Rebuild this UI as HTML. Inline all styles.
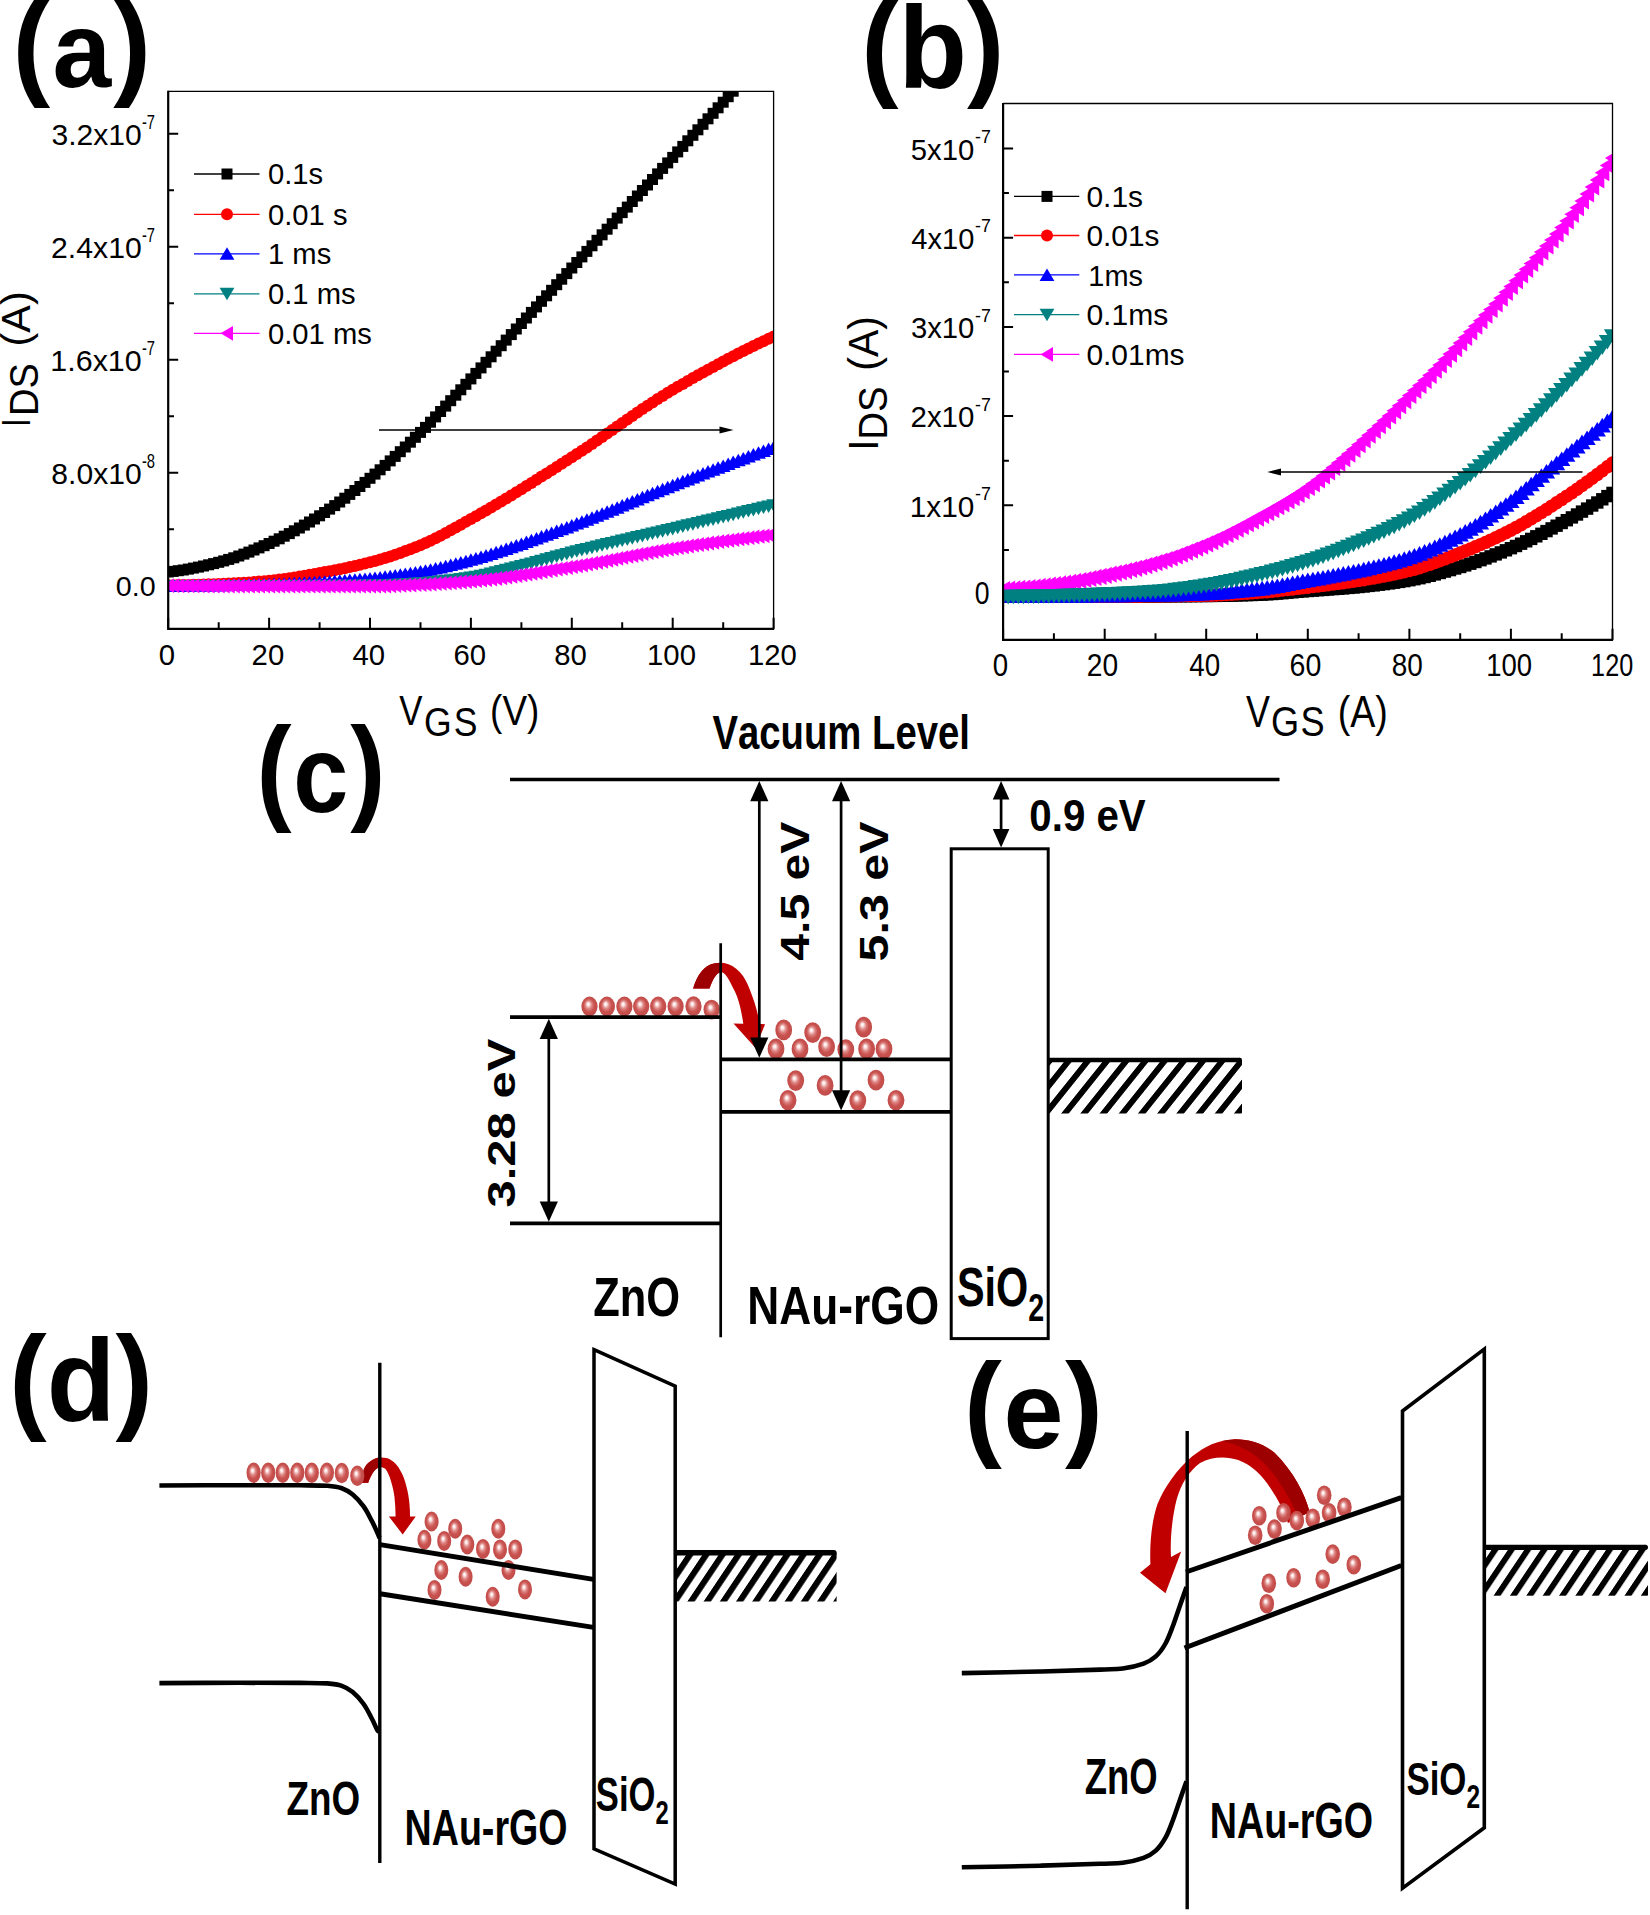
<!DOCTYPE html>
<html><head><meta charset="utf-8"><title>Figure</title>
<style>
html,body{margin:0;padding:0;background:#fff;}
svg{display:block;font-family:"Liberation Sans",Arial,sans-serif;font-kerning:none;}
</style></head><body>
<svg width="1650" height="1915" viewBox="0 0 1650 1915">
<rect width="1650" height="1915" fill="#fff"/>

<defs>
<marker id="mSq" markerUnits="userSpaceOnUse" markerWidth="14" markerHeight="14" refX="7" refY="7" viewBox="0 0 14 14"><rect x="1.5" y="1.5" width="11" height="11" fill="#000"/></marker>
<marker id="mCi" markerUnits="userSpaceOnUse" markerWidth="14" markerHeight="14" refX="7" refY="7" viewBox="0 0 14 14"><circle cx="7" cy="7" r="6" fill="#ff0000"/></marker>
<marker id="mUp" markerUnits="userSpaceOnUse" markerWidth="16" markerHeight="16" refX="8" refY="8" viewBox="0 0 16 16"><path d="M8 1.5 L15.4 14 L0.6 14 Z" fill="#0000ff"/></marker>
<marker id="mDn" markerUnits="userSpaceOnUse" markerWidth="16" markerHeight="16" refX="8" refY="8" viewBox="0 0 16 16"><path d="M8 14.5 L15.4 2 L0.6 2 Z" fill="#008080"/></marker>
<marker id="mLf" markerUnits="userSpaceOnUse" markerWidth="16" markerHeight="16" refX="8" refY="8" viewBox="0 0 16 16"><path d="M1.5 8 L14 0.6 L14 15.4 Z" fill="#ff00ff"/></marker>
<marker id="mSqB" markerUnits="userSpaceOnUse" markerWidth="16" markerHeight="16" refX="8" refY="8" viewBox="0 0 16 16"><rect x="1.8" y="1.8" width="12.4" height="12.4" fill="#000"/></marker>
<marker id="mCiB" markerUnits="userSpaceOnUse" markerWidth="16" markerHeight="16" refX="8" refY="8" viewBox="0 0 16 16"><circle cx="8" cy="8" r="6.7" fill="#ff0000"/></marker>
<marker id="mUpB" markerUnits="userSpaceOnUse" markerWidth="20" markerHeight="20" refX="10" refY="10" viewBox="0 0 20 20"><path d="M10 2.4 L18.6 17 L1.4 17 Z" fill="#0000ff"/></marker>
<marker id="mDnB" markerUnits="userSpaceOnUse" markerWidth="20" markerHeight="20" refX="10" refY="10" viewBox="0 0 20 20"><path d="M10 17.6 L18.6 3 L1.4 3 Z" fill="#008080"/></marker>
<marker id="mLfB" markerUnits="userSpaceOnUse" markerWidth="20" markerHeight="20" refX="10" refY="10" viewBox="0 0 20 20"><path d="M2.4 10 L17 1.4 L17 18.6 Z" fill="#ff00ff"/></marker>
<radialGradient id="eg" cx="0.5" cy="0.5" r="0.56" fx="0.41" fy="0.37">
<stop offset="0" stop-color="#ffffff"/><stop offset="0.12" stop-color="#fdeceb"/><stop offset="0.36" stop-color="#dd8583"/><stop offset="0.6" stop-color="#c9524f"/><stop offset="1" stop-color="#bd4946"/>
</radialGradient>
<pattern id="hat" patternUnits="userSpaceOnUse" x="0" y="0" width="19.1" height="100" patternTransform="skewX(-39.5)">
<rect x="0" y="0" width="7.6" height="100" fill="#000"/>
</pattern>
<clipPath id="clipA"><rect x="168.2" y="91.3" width="605.4" height="537.5"/></clipPath>
<clipPath id="clipB"><rect x="1003.1" y="103.5" width="609.4" height="536.3"/></clipPath>
</defs>

<path d="M168.2 628.8 v-11 M218.7 628.8 v-6.5 M269.1 628.8 v-11 M319.6 628.8 v-6.5 M370.0 628.8 v-11 M420.5 628.8 v-6.5 M470.9 628.8 v-11 M521.4 628.8 v-6.5 M571.8 628.8 v-11 M622.2 628.8 v-6.5 M672.7 628.8 v-11 M723.2 628.8 v-6.5 M773.6 628.8 v-11 M168.2 585.7 h10 M168.2 529.2 h5.8 M168.2 472.7 h10 M168.2 416.2 h5.8 M168.2 359.7 h10 M168.2 303.2 h5.8 M168.2 246.7 h10 M168.2 190.2 h5.8 M168.2 133.7 h10" stroke="#000" stroke-width="2" fill="none"/>
<path d="M168.2 572.0 L173.2 571.4 L178.3 570.7 L183.3 570.0 L188.4 569.1 L193.4 568.1 L198.5 567.1 L203.5 566.0 L208.6 564.8 L213.6 563.6 L218.7 562.3 L223.7 560.9 L228.7 559.4 L233.8 557.8 L238.8 556.0 L243.9 554.1 L248.9 552.1 L254.0 550.0 L259.0 547.9 L264.1 545.7 L269.1 543.5 L274.1 541.2 L279.2 538.8 L284.2 536.2 L289.3 533.6 L294.3 530.8 L299.4 528.0 L304.4 525.1 L309.5 522.0 L314.5 519.0 L319.6 515.8 L324.6 512.5 L329.6 509.1 L334.7 505.6 L339.7 502.0 L344.8 498.2 L349.8 494.4 L354.9 490.5 L359.9 486.5 L365.0 482.4 L370.0 478.3 L375.0 474.1 L380.1 469.8 L385.1 465.4 L390.2 460.9 L395.2 456.4 L400.3 451.7 L405.3 447.0 L410.4 442.2 L415.4 437.3 L420.5 432.4 L425.5 427.4 L430.5 422.2 L435.6 416.9 L440.6 411.5 L445.7 406.1 L450.7 400.7 L455.8 395.2 L460.8 389.8 L465.9 384.3 L470.9 378.9 L475.9 373.4 L481.0 367.9 L486.0 362.3 L491.1 356.8 L496.1 351.2 L501.2 345.7 L506.2 340.1 L511.3 334.6 L516.3 329.0 L521.4 323.5 L526.4 318.0 L531.4 312.4 L536.5 306.9 L541.5 301.3 L546.6 295.8 L551.6 290.3 L556.7 284.7 L561.7 279.2 L566.8 273.6 L571.8 268.0 L576.8 262.5 L581.9 256.9 L586.9 251.4 L592.0 245.8 L597.0 240.3 L602.1 234.8 L607.1 229.2 L612.2 223.7 L617.2 218.1 L622.2 212.6 L627.3 207.1 L632.3 201.5 L637.4 196.0 L642.4 190.5 L647.5 185.0 L652.5 179.5 L657.6 173.9 L662.6 168.4 L667.7 162.9 L672.7 157.4 L677.7 151.9 L682.8 146.4 L687.8 140.8 L692.9 135.3 L697.9 129.8 L703.0 124.3 L708.0 118.8 L713.1 113.3 L718.1 107.8 L723.2 102.2 L728.2 96.7 L733.2 91.2 L738.3 85.7 L743.3 80.2 L748.4 74.6 L753.4 69.1 L758.5 63.6 L763.5 58.1 L768.6 52.5 L773.6 47.0" fill="none" stroke="#000" stroke-width="1" marker-start="url(#mSq)" marker-mid="url(#mSq)" marker-end="url(#mSq)" clip-path="url(#clipA)"/>
<path d="M168.2 585.2 L173.2 585.2 L178.3 585.1 L183.3 585.0 L188.4 584.9 L193.4 584.8 L198.5 584.7 L203.5 584.5 L208.6 584.3 L213.6 584.2 L218.7 584.0 L223.7 583.8 L228.7 583.6 L233.8 583.3 L238.8 583.0 L243.9 582.7 L248.9 582.4 L254.0 582.0 L259.0 581.6 L264.1 581.2 L269.1 580.7 L274.1 580.2 L279.2 579.6 L284.2 578.9 L289.3 578.2 L294.3 577.4 L299.4 576.6 L304.4 575.7 L309.5 574.8 L314.5 573.9 L319.6 573.0 L324.6 572.1 L329.6 571.2 L334.7 570.2 L339.7 569.2 L344.8 568.2 L349.8 567.1 L354.9 566.0 L359.9 564.8 L365.0 563.6 L370.0 562.3 L375.0 560.9 L380.1 559.5 L385.1 558.0 L390.2 556.4 L395.2 554.7 L400.3 552.9 L405.3 551.1 L410.4 549.2 L415.4 547.2 L420.5 545.2 L425.5 543.0 L430.5 540.7 L435.6 538.3 L440.6 535.7 L445.7 533.0 L450.7 530.3 L455.8 527.5 L460.8 524.7 L465.9 521.8 L470.9 519.0 L475.9 516.2 L481.0 513.3 L486.0 510.4 L491.1 507.5 L496.1 504.5 L501.2 501.5 L506.2 498.4 L511.3 495.4 L516.3 492.3 L521.4 489.2 L526.4 486.1 L531.4 482.9 L536.5 479.7 L541.5 476.6 L546.6 473.4 L551.6 470.2 L556.7 467.0 L561.7 463.7 L566.8 460.5 L571.8 457.3 L576.8 454.0 L581.9 450.7 L586.9 447.4 L592.0 443.9 L597.0 440.5 L602.1 437.0 L607.1 433.5 L612.2 430.0 L617.2 426.5 L622.2 422.9 L627.3 419.4 L632.3 415.9 L637.4 412.5 L642.4 409.1 L647.5 405.7 L652.5 402.4 L657.6 399.1 L662.6 395.9 L667.7 392.8 L672.7 389.8 L677.7 386.8 L682.8 383.9 L687.8 381.0 L692.9 378.1 L697.9 375.3 L703.0 372.4 L708.0 369.7 L713.1 366.9 L718.1 364.2 L723.2 361.5 L728.2 358.8 L733.2 356.2 L738.3 353.6 L743.3 351.1 L748.4 348.5 L753.4 346.1 L758.5 343.6 L763.5 341.2 L768.6 338.8 L773.6 336.5" fill="none" stroke="#ff0000" stroke-width="1" marker-start="url(#mCi)" marker-mid="url(#mCi)" marker-end="url(#mCi)" clip-path="url(#clipA)"/>
<path d="M168.2 585.7 L173.2 585.7 L178.3 585.7 L183.3 585.7 L188.4 585.6 L193.4 585.6 L198.5 585.5 L203.5 585.5 L208.6 585.4 L213.6 585.3 L218.7 585.2 L223.7 585.2 L228.7 585.1 L233.8 585.0 L238.8 584.9 L243.9 584.8 L248.9 584.7 L254.0 584.5 L259.0 584.4 L264.1 584.3 L269.1 584.2 L274.1 584.1 L279.2 583.9 L284.2 583.7 L289.3 583.5 L294.3 583.3 L299.4 583.1 L304.4 582.8 L309.5 582.5 L314.5 582.3 L319.6 582.0 L324.6 581.7 L329.6 581.4 L334.7 581.1 L339.7 580.8 L344.8 580.4 L349.8 580.1 L354.9 579.7 L359.9 579.3 L365.0 578.9 L370.0 578.4 L375.0 577.9 L380.1 577.4 L385.1 576.8 L390.2 576.2 L395.2 575.5 L400.3 574.8 L405.3 574.0 L410.4 573.3 L415.4 572.4 L420.5 571.6 L425.5 570.7 L430.5 569.7 L435.6 568.6 L440.6 567.5 L445.7 566.3 L450.7 565.1 L455.8 563.8 L460.8 562.5 L465.9 561.2 L470.9 559.8 L475.9 558.4 L481.0 557.0 L486.0 555.5 L491.1 553.9 L496.1 552.3 L501.2 550.7 L506.2 549.0 L511.3 547.3 L516.3 545.6 L521.4 543.9 L526.4 542.1 L531.4 540.3 L536.5 538.5 L541.5 536.6 L546.6 534.8 L551.6 532.9 L556.7 531.1 L561.7 529.2 L566.8 527.4 L571.8 525.5 L576.8 523.6 L581.9 521.7 L586.9 519.8 L592.0 517.8 L597.0 515.8 L602.1 513.8 L607.1 511.8 L612.2 509.7 L617.2 507.7 L622.2 505.6 L627.3 503.5 L632.3 501.5 L637.4 499.4 L642.4 497.3 L647.5 495.3 L652.5 493.2 L657.6 491.2 L662.6 489.2 L667.7 487.2 L672.7 485.2 L677.7 483.2 L682.8 481.3 L687.8 479.4 L692.9 477.4 L697.9 475.5 L703.0 473.6 L708.0 471.6 L713.1 469.7 L718.1 467.8 L723.2 465.9 L728.2 464.0 L733.2 462.1 L738.3 460.2 L743.3 458.4 L748.4 456.5 L753.4 454.6 L758.5 452.8 L763.5 450.9 L768.6 449.0 L773.6 447.2" fill="none" stroke="#0000ff" stroke-width="1" marker-start="url(#mUp)" marker-mid="url(#mUp)" marker-end="url(#mUp)" clip-path="url(#clipA)"/>
<path d="M168.2 586.0 L173.2 586.0 L178.3 586.0 L183.3 586.0 L188.4 586.0 L193.4 586.0 L198.5 586.0 L203.5 586.0 L208.6 586.0 L213.6 586.0 L218.7 586.0 L223.7 586.0 L228.7 586.0 L233.8 586.0 L238.8 586.0 L243.9 586.0 L248.9 586.0 L254.0 586.0 L259.0 586.0 L264.1 586.0 L269.1 586.0 L274.1 586.0 L279.2 586.0 L284.2 586.0 L289.3 586.0 L294.3 586.0 L299.4 586.0 L304.4 586.0 L309.5 585.9 L314.5 585.9 L319.6 585.9 L324.6 585.9 L329.6 585.9 L334.7 585.8 L339.7 585.8 L344.8 585.8 L349.8 585.7 L354.9 585.7 L359.9 585.7 L365.0 585.6 L370.0 585.6 L375.0 585.5 L380.1 585.4 L385.1 585.3 L390.2 585.0 L395.2 584.8 L400.3 584.5 L405.3 584.3 L410.4 583.9 L415.4 583.6 L420.5 583.3 L425.5 582.9 L430.5 582.5 L435.6 582.0 L440.6 581.5 L445.7 581.0 L450.7 580.3 L455.8 579.7 L460.8 579.0 L465.9 578.3 L470.9 577.5 L475.9 576.7 L481.0 575.7 L486.0 574.7 L491.1 573.5 L496.1 572.3 L501.2 571.1 L506.2 569.8 L511.3 568.5 L516.3 567.3 L521.4 566.0 L526.4 564.7 L531.4 563.4 L536.5 562.1 L541.5 560.7 L546.6 559.3 L551.6 558.0 L556.7 556.6 L561.7 555.2 L566.8 553.9 L571.8 552.6 L576.8 551.3 L581.9 550.1 L586.9 548.9 L592.0 547.7 L597.0 546.4 L602.1 545.3 L607.1 544.1 L612.2 542.9 L617.2 541.7 L622.2 540.5 L627.3 539.4 L632.3 538.2 L637.4 537.1 L642.4 535.9 L647.5 534.7 L652.5 533.6 L657.6 532.4 L662.6 531.3 L667.7 530.1 L672.7 528.9 L677.7 527.7 L682.8 526.5 L687.8 525.3 L692.9 524.2 L697.9 523.0 L703.0 521.8 L708.0 520.6 L713.1 519.4 L718.1 518.2 L723.2 517.0 L728.2 515.9 L733.2 514.7 L738.3 513.5 L743.3 512.3 L748.4 511.1 L753.4 509.9 L758.5 508.8 L763.5 507.6 L768.6 506.4 L773.6 505.2" fill="none" stroke="#008080" stroke-width="1" marker-start="url(#mDn)" marker-mid="url(#mDn)" marker-end="url(#mDn)" clip-path="url(#clipA)"/>
<path d="M168.2 585.7 L173.2 585.7 L178.3 585.8 L183.3 585.8 L188.4 585.8 L193.4 585.9 L198.5 585.9 L203.5 586.0 L208.6 586.0 L213.6 586.0 L218.7 586.0 L223.7 586.1 L228.7 586.1 L233.8 586.1 L238.8 586.1 L243.9 586.2 L248.9 586.2 L254.0 586.2 L259.0 586.2 L264.1 586.2 L269.1 586.2 L274.1 586.2 L279.2 586.2 L284.2 586.2 L289.3 586.2 L294.3 586.2 L299.4 586.2 L304.4 586.2 L309.5 586.2 L314.5 586.2 L319.6 586.2 L324.6 586.2 L329.6 586.2 L334.7 586.2 L339.7 586.2 L344.8 586.2 L349.8 586.2 L354.9 586.2 L359.9 586.2 L365.0 586.2 L370.0 586.2 L375.0 586.2 L380.1 586.1 L385.1 586.0 L390.2 585.8 L395.2 585.6 L400.3 585.4 L405.3 585.2 L410.4 585.0 L415.4 584.7 L420.5 584.5 L425.5 584.3 L430.5 584.0 L435.6 583.7 L440.6 583.4 L445.7 583.1 L450.7 582.8 L455.8 582.4 L460.8 582.0 L465.9 581.6 L470.9 581.2 L475.9 580.7 L481.0 580.2 L486.0 579.7 L491.1 579.1 L496.1 578.5 L501.2 577.8 L506.2 577.1 L511.3 576.4 L516.3 575.7 L521.4 574.9 L526.4 574.1 L531.4 573.3 L536.5 572.5 L541.5 571.7 L546.6 570.8 L551.6 570.0 L556.7 569.2 L561.7 568.3 L566.8 567.5 L571.8 566.7 L576.8 565.9 L581.9 565.0 L586.9 564.1 L592.0 563.2 L597.0 562.3 L602.1 561.3 L607.1 560.4 L612.2 559.4 L617.2 558.4 L622.2 557.4 L627.3 556.4 L632.3 555.5 L637.4 554.5 L642.4 553.6 L647.5 552.6 L652.5 551.7 L657.6 550.8 L662.6 549.9 L667.7 549.1 L672.7 548.3 L677.7 547.5 L682.8 546.8 L687.8 546.0 L692.9 545.2 L697.9 544.5 L703.0 543.8 L708.0 543.0 L713.1 542.3 L718.1 541.6 L723.2 540.9 L728.2 540.3 L733.2 539.6 L738.3 538.9 L743.3 538.3 L748.4 537.7 L753.4 537.0 L758.5 536.4 L763.5 535.8 L768.6 535.3 L773.6 534.7" fill="none" stroke="#ff00ff" stroke-width="1" marker-start="url(#mLf)" marker-mid="url(#mLf)" marker-end="url(#mLf)" clip-path="url(#clipA)"/>
<path d="M168.2 91.3 H773.6 V628.8" fill="none" stroke="#000" stroke-width="1.3"/>
<path d="M168.2 90.7 V628.8 H774.2" fill="none" stroke="#000" stroke-width="2.2"/>
<text transform="translate(167.0,664.5)" font-size="29.3" text-anchor="middle" font-weight="normal" >0</text>
<text transform="translate(267.9,664.5)" font-size="29.3" text-anchor="middle" font-weight="normal" >20</text>
<text transform="translate(368.8,664.5)" font-size="29.3" text-anchor="middle" font-weight="normal" >40</text>
<text transform="translate(469.7,664.5)" font-size="29.3" text-anchor="middle" font-weight="normal" >60</text>
<text transform="translate(570.6,664.5)" font-size="29.3" text-anchor="middle" font-weight="normal" >80</text>
<text transform="translate(671.5,664.5)" font-size="29.3" text-anchor="middle" font-weight="normal" >100</text>
<text transform="translate(772.4,664.5)" font-size="29.3" text-anchor="middle" font-weight="normal" >120</text>
<text transform="translate(51.47,144.60) scale(1.0294,1)" font-size="29.2" font-weight="normal" >3.2x10</text>
<text transform="translate(141.94,128.50) scale(0.7319,1)" font-size="20.0" font-weight="normal" >-7</text>
<text transform="translate(51.09,257.60) scale(1.0339,1)" font-size="29.2" font-weight="normal" >2.4x10</text>
<text transform="translate(141.94,241.50) scale(0.7319,1)" font-size="20.0" font-weight="normal" >-7</text>
<text transform="translate(50.32,370.60) scale(1.0428,1)" font-size="29.2" font-weight="normal" >1.6x10</text>
<text transform="translate(141.94,354.50) scale(0.7319,1)" font-size="20.0" font-weight="normal" >-7</text>
<text transform="translate(51.32,483.60) scale(1.0312,1)" font-size="29.2" font-weight="normal" >8.0x10</text>
<text transform="translate(141.94,467.50) scale(0.7375,1)" font-size="20.0" font-weight="normal" >-8</text>
<text transform="translate(115.85,595.70) scale(1.0052,1)" font-size="28.5" font-weight="normal" >0.0</text>
<path d="M194 174 H227 H259.5" stroke="#000" stroke-width="1.3" fill="none" marker-mid="url(#mSq)"/>
<text transform="translate(268.0,184.3)" font-size="29.2" text-anchor="start" font-weight="normal" >0.1s</text>
<path d="M194 214.3 H227 H259.5" stroke="#ff0000" stroke-width="1.3" fill="none" marker-mid="url(#mCi)"/>
<text transform="translate(268.0,224.6)" font-size="29.2" text-anchor="start" font-weight="normal" >0.01 s</text>
<path d="M194 253.8 H227 H259.5" stroke="#0000ff" stroke-width="1.3" fill="none" marker-mid="url(#mUp)"/>
<text transform="translate(268.0,264.1)" font-size="29.2" text-anchor="start" font-weight="normal" >1 ms</text>
<path d="M194 293.8 H227 H259.5" stroke="#008080" stroke-width="1.3" fill="none" marker-mid="url(#mDn)"/>
<text transform="translate(268.0,304.1)" font-size="29.2" text-anchor="start" font-weight="normal" >0.1 ms</text>
<path d="M194 333.3 H227 H259.5" stroke="#ff00ff" stroke-width="1.3" fill="none" marker-mid="url(#mLf)"/>
<text transform="translate(268.0,343.6)" font-size="29.2" text-anchor="start" font-weight="normal" >0.01 ms</text>
<path d="M379 430 H722" stroke="#000" stroke-width="1.3"/><path d="M733.5 430 L719.5 426.6 L719.5 433.4 Z" fill="#000"/>
<text transform="translate(29.70,427.00) rotate(-90) scale(0.7610,1)" font-size="41.2" font-weight="normal" >I</text>
<text transform="translate(38.40,415.94) rotate(-90) scale(0.9364,1)" font-size="40.6" font-weight="normal" >DS</text>
<text transform="translate(29.70,346.49) rotate(-90) scale(1.0050,1)" font-size="41.2" font-weight="normal" >(A)</text>
<text transform="translate(399.23,725.30) scale(0.8214,1)" font-size="42.4" font-weight="normal" >V</text>
<text transform="translate(424.02,735.80) scale(0.8856,1)" font-size="40.2" font-weight="normal" letter-spacing="2.41" >GS</text>
<text transform="translate(490.09,725.30) scale(0.8713,1)" font-size="42.4" font-weight="normal" >(V)</text>
<path d="M1003.1 639.8 v-11 M1053.9 639.8 v-6.5 M1104.7 639.8 v-11 M1155.5 639.8 v-6.5 M1206.2 639.8 v-11 M1257.0 639.8 v-6.5 M1307.8 639.8 v-11 M1358.6 639.8 v-6.5 M1409.4 639.8 v-11 M1460.2 639.8 v-6.5 M1510.9 639.8 v-11 M1561.7 639.8 v-6.5 M1612.5 639.8 v-11 M1003.1 594.5 h10 M1003.1 549.9 h5.8 M1003.1 505.3 h10 M1003.1 460.7 h5.8 M1003.1 416.1 h10 M1003.1 371.5 h5.8 M1003.1 326.9 h10 M1003.1 282.3 h5.8 M1003.1 237.7 h10 M1003.1 193.1 h5.8 M1003.1 148.5 h10" stroke="#000" stroke-width="2" fill="none"/>
<path d="M1003.1 596.5 L1008.2 596.5 L1013.3 596.5 L1018.3 596.5 L1023.4 596.5 L1028.5 596.5 L1033.6 596.5 L1038.6 596.5 L1043.7 596.5 L1048.8 596.5 L1053.9 596.5 L1059.0 596.5 L1064.0 596.5 L1069.1 596.5 L1074.2 596.5 L1079.3 596.5 L1084.4 596.5 L1089.4 596.5 L1094.5 596.5 L1099.6 596.5 L1104.7 596.5 L1109.7 596.5 L1114.8 596.5 L1119.9 596.5 L1125.0 596.5 L1130.1 596.5 L1135.1 596.4 L1140.2 596.4 L1145.3 596.4 L1150.4 596.4 L1155.5 596.4 L1160.5 596.3 L1165.6 596.3 L1170.7 596.3 L1175.8 596.2 L1180.8 596.2 L1185.9 596.2 L1191.0 596.1 L1196.1 596.1 L1201.2 596.0 L1206.2 596.0 L1211.3 595.9 L1216.4 595.9 L1221.5 595.8 L1226.5 595.7 L1231.6 595.6 L1236.7 595.4 L1241.8 595.3 L1246.9 595.1 L1251.9 595.0 L1257.0 594.8 L1262.1 594.6 L1267.2 594.3 L1272.3 594.0 L1277.3 593.6 L1282.4 593.2 L1287.5 592.7 L1292.6 592.3 L1297.6 591.8 L1302.7 591.4 L1307.8 591.0 L1312.9 590.6 L1318.0 590.2 L1323.0 589.9 L1328.1 589.5 L1333.2 589.1 L1338.3 588.8 L1343.3 588.4 L1348.4 587.9 L1353.5 587.5 L1358.6 587.0 L1363.7 586.5 L1368.7 585.9 L1373.8 585.4 L1378.9 584.7 L1384.0 584.1 L1389.1 583.4 L1394.1 582.7 L1399.2 581.9 L1404.3 581.1 L1409.4 580.2 L1414.4 579.2 L1419.5 578.2 L1424.6 577.0 L1429.7 575.8 L1434.8 574.4 L1439.8 573.0 L1444.9 571.6 L1450.0 570.1 L1455.1 568.5 L1460.2 567.0 L1465.2 565.4 L1470.3 563.7 L1475.4 562.0 L1480.5 560.2 L1485.5 558.4 L1490.6 556.4 L1495.7 554.4 L1500.8 552.4 L1505.9 550.3 L1510.9 548.2 L1516.0 546.0 L1521.1 543.7 L1526.2 541.3 L1531.2 538.9 L1536.3 536.3 L1541.4 533.8 L1546.5 531.1 L1551.6 528.4 L1556.6 525.7 L1561.7 523.0 L1566.8 520.2 L1571.9 517.4 L1577.0 514.5 L1582.0 511.6 L1587.1 508.6 L1592.2 505.5 L1597.3 502.5 L1602.3 499.3 L1607.4 496.1 L1612.5 492.9" fill="none" stroke="#000" stroke-width="1" marker-start="url(#mSqB)" marker-mid="url(#mSqB)" marker-end="url(#mSqB)" clip-path="url(#clipB)"/>
<path d="M1003.1 596.3 L1008.2 596.3 L1013.3 596.3 L1018.3 596.3 L1023.4 596.3 L1028.5 596.3 L1033.6 596.3 L1038.6 596.3 L1043.7 596.3 L1048.8 596.3 L1053.9 596.3 L1059.0 596.3 L1064.0 596.3 L1069.1 596.3 L1074.2 596.3 L1079.3 596.3 L1084.4 596.3 L1089.4 596.3 L1094.5 596.3 L1099.6 596.3 L1104.7 596.3 L1109.7 596.3 L1114.8 596.3 L1119.9 596.3 L1125.0 596.3 L1130.1 596.2 L1135.1 596.2 L1140.2 596.2 L1145.3 596.1 L1150.4 596.1 L1155.5 596.0 L1160.5 596.0 L1165.6 595.9 L1170.7 595.9 L1175.8 595.8 L1180.8 595.7 L1185.9 595.6 L1191.0 595.6 L1196.1 595.5 L1201.2 595.4 L1206.2 595.3 L1211.3 595.2 L1216.4 595.0 L1221.5 594.8 L1226.5 594.5 L1231.6 594.2 L1236.7 593.9 L1241.8 593.6 L1246.9 593.2 L1251.9 592.9 L1257.0 592.5 L1262.1 592.1 L1267.2 591.7 L1272.3 591.2 L1277.3 590.7 L1282.4 590.1 L1287.5 589.6 L1292.6 589.0 L1297.6 588.4 L1302.7 587.8 L1307.8 587.2 L1312.9 586.6 L1318.0 586.0 L1323.0 585.4 L1328.1 584.8 L1333.2 584.1 L1338.3 583.4 L1343.3 582.8 L1348.4 582.0 L1353.5 581.3 L1358.6 580.5 L1363.7 579.7 L1368.7 578.8 L1373.8 578.0 L1378.9 577.0 L1384.0 576.1 L1389.1 575.1 L1394.1 574.0 L1399.2 572.9 L1404.3 571.7 L1409.4 570.5 L1414.4 569.2 L1419.5 567.7 L1424.6 566.1 L1429.7 564.4 L1434.8 562.6 L1439.8 560.8 L1444.9 558.9 L1450.0 556.9 L1455.1 555.0 L1460.2 553.0 L1465.2 551.0 L1470.3 548.9 L1475.4 546.8 L1480.5 544.6 L1485.5 542.4 L1490.6 540.1 L1495.7 537.7 L1500.8 535.3 L1505.9 532.8 L1510.9 530.2 L1516.0 527.5 L1521.1 524.7 L1526.2 521.8 L1531.2 518.8 L1536.3 515.8 L1541.4 512.6 L1546.5 509.4 L1551.6 506.1 L1556.6 502.8 L1561.7 499.5 L1566.8 496.1 L1571.9 492.7 L1577.0 489.2 L1582.0 485.6 L1587.1 482.0 L1592.2 478.3 L1597.3 474.5 L1602.3 470.7 L1607.4 466.8 L1612.5 462.9" fill="none" stroke="#ff0000" stroke-width="1" marker-start="url(#mCiB)" marker-mid="url(#mCiB)" marker-end="url(#mCiB)" clip-path="url(#clipB)"/>
<path d="M1003.1 595.5 L1008.2 595.5 L1013.3 595.5 L1018.3 595.5 L1023.4 595.5 L1028.5 595.5 L1033.6 595.5 L1038.6 595.5 L1043.7 595.5 L1048.8 595.5 L1053.9 595.4 L1059.0 595.4 L1064.0 595.4 L1069.1 595.4 L1074.2 595.4 L1079.3 595.4 L1084.4 595.4 L1089.4 595.4 L1094.5 595.3 L1099.6 595.3 L1104.7 595.3 L1109.7 595.3 L1114.8 595.2 L1119.9 595.2 L1125.0 595.2 L1130.1 595.1 L1135.1 595.1 L1140.2 595.0 L1145.3 594.9 L1150.4 594.9 L1155.5 594.8 L1160.5 594.7 L1165.6 594.6 L1170.7 594.5 L1175.8 594.4 L1180.8 594.2 L1185.9 594.1 L1191.0 593.9 L1196.1 593.7 L1201.2 593.5 L1206.2 593.3 L1211.3 593.1 L1216.4 592.8 L1221.5 592.4 L1226.5 592.0 L1231.6 591.6 L1236.7 591.1 L1241.8 590.6 L1246.9 590.1 L1251.9 589.6 L1257.0 589.0 L1262.1 588.4 L1267.2 587.6 L1272.3 586.8 L1277.3 586.0 L1282.4 585.0 L1287.5 584.1 L1292.6 583.1 L1297.6 582.1 L1302.7 581.1 L1307.8 580.2 L1312.9 579.3 L1318.0 578.4 L1323.0 577.5 L1328.1 576.5 L1333.2 575.6 L1338.3 574.6 L1343.3 573.7 L1348.4 572.6 L1353.5 571.6 L1358.6 570.5 L1363.7 569.4 L1368.7 568.2 L1373.8 567.1 L1378.9 565.8 L1384.0 564.6 L1389.1 563.3 L1394.1 561.9 L1399.2 560.5 L1404.3 558.9 L1409.4 557.3 L1414.4 555.6 L1419.5 553.7 L1424.6 551.6 L1429.7 549.5 L1434.8 547.2 L1439.8 544.8 L1444.9 542.4 L1450.0 539.8 L1455.1 537.2 L1460.2 534.5 L1465.2 531.7 L1470.3 528.8 L1475.4 525.7 L1480.5 522.4 L1485.5 519.1 L1490.6 515.6 L1495.7 512.1 L1500.8 508.4 L1505.9 504.8 L1510.9 501.0 L1516.0 497.1 L1521.1 492.9 L1526.2 488.6 L1531.2 484.3 L1536.3 480.0 L1541.4 475.8 L1546.5 471.6 L1551.6 467.4 L1556.6 463.2 L1561.7 459.0 L1566.8 454.8 L1571.9 450.6 L1577.0 446.4 L1582.0 442.2 L1587.1 438.0 L1592.2 433.8 L1597.3 429.6 L1602.3 425.4 L1607.4 421.2 L1612.5 417.0" fill="none" stroke="#0000ff" stroke-width="1" marker-start="url(#mUpB)" marker-mid="url(#mUpB)" marker-end="url(#mUpB)" clip-path="url(#clipB)"/>
<path d="M1003.1 589.5 L1008.2 589.2 L1013.3 588.9 L1018.3 588.4 L1023.4 588.0 L1028.5 587.5 L1033.6 587.0 L1038.6 586.4 L1043.7 585.8 L1048.8 585.2 L1053.9 584.6 L1059.0 583.9 L1064.0 583.2 L1069.1 582.3 L1074.2 581.4 L1079.3 580.5 L1084.4 579.5 L1089.4 578.5 L1094.5 577.4 L1099.6 576.4 L1104.7 575.3 L1109.7 574.2 L1114.8 573.1 L1119.9 572.0 L1125.0 570.8 L1130.1 569.5 L1135.1 568.3 L1140.2 567.0 L1145.3 565.6 L1150.4 564.2 L1155.5 562.7 L1160.5 561.1 L1165.6 559.5 L1170.7 557.8 L1175.8 556.0 L1180.8 554.1 L1185.9 552.2 L1191.0 550.2 L1196.1 548.2 L1201.2 546.1 L1206.2 543.9 L1211.3 541.7 L1216.4 539.3 L1221.5 536.9 L1226.5 534.4 L1231.6 531.8 L1236.7 529.1 L1241.8 526.4 L1246.9 523.7 L1251.9 520.9 L1257.0 518.1 L1262.1 515.3 L1267.2 512.5 L1272.3 509.6 L1277.3 506.7 L1282.4 503.8 L1287.5 500.7 L1292.6 497.6 L1297.6 494.4 L1302.7 491.0 L1307.8 487.5 L1312.9 483.8 L1318.0 480.0 L1323.0 476.0 L1328.1 471.8 L1333.2 467.5 L1338.3 463.1 L1343.3 458.6 L1348.4 454.1 L1353.5 449.4 L1358.6 444.7 L1363.7 440.0 L1368.7 435.2 L1373.8 430.4 L1378.9 425.7 L1384.0 420.8 L1389.1 415.9 L1394.1 410.8 L1399.2 405.7 L1404.3 400.6 L1409.4 395.5 L1414.4 390.5 L1419.5 385.4 L1424.6 380.4 L1429.7 375.3 L1434.8 370.2 L1439.8 364.9 L1444.9 359.5 L1450.0 354.1 L1455.1 348.6 L1460.2 343.0 L1465.2 337.4 L1470.3 331.8 L1475.4 326.2 L1480.5 320.7 L1485.5 315.1 L1490.6 309.5 L1495.7 303.9 L1500.8 298.1 L1505.9 292.3 L1510.9 286.5 L1516.0 280.7 L1521.1 275.0 L1526.2 269.3 L1531.2 263.5 L1536.3 257.7 L1541.4 251.9 L1546.5 246.0 L1551.6 240.0 L1556.6 233.9 L1561.7 227.5 L1566.8 221.0 L1571.9 214.3 L1577.0 207.7 L1582.0 200.9 L1587.1 194.0 L1592.2 187.0 L1597.3 179.9 L1602.3 172.7 L1607.4 165.4 L1612.5 157.9" fill="none" stroke="#ff00ff" stroke-width="1" marker-start="url(#mLfB)" marker-mid="url(#mLfB)" marker-end="url(#mLfB)" clip-path="url(#clipB)"/>
<path d="M1003.1 596.8 L1008.2 596.8 L1013.3 596.7 L1018.3 596.6 L1023.4 596.6 L1028.5 596.5 L1033.6 596.4 L1038.6 596.3 L1043.7 596.2 L1048.8 596.1 L1053.9 596.0 L1059.0 595.9 L1064.0 595.7 L1069.1 595.6 L1074.2 595.4 L1079.3 595.3 L1084.4 595.1 L1089.4 594.9 L1094.5 594.7 L1099.6 594.5 L1104.7 594.3 L1109.7 594.1 L1114.8 593.9 L1119.9 593.7 L1125.0 593.5 L1130.1 593.2 L1135.1 593.0 L1140.2 592.7 L1145.3 592.5 L1150.4 592.1 L1155.5 591.8 L1160.5 591.4 L1165.6 590.9 L1170.7 590.4 L1175.8 589.8 L1180.8 589.2 L1185.9 588.6 L1191.0 587.9 L1196.1 587.1 L1201.2 586.4 L1206.2 585.6 L1211.3 584.8 L1216.4 583.9 L1221.5 583.0 L1226.5 582.0 L1231.6 581.0 L1236.7 579.9 L1241.8 578.8 L1246.9 577.6 L1251.9 576.5 L1257.0 575.3 L1262.1 574.1 L1267.2 572.9 L1272.3 571.6 L1277.3 570.3 L1282.4 568.9 L1287.5 567.5 L1292.6 566.1 L1297.6 564.6 L1302.7 563.1 L1307.8 561.5 L1312.9 559.9 L1318.0 558.2 L1323.0 556.4 L1328.1 554.5 L1333.2 552.7 L1338.3 550.7 L1343.3 548.7 L1348.4 546.7 L1353.5 544.6 L1358.6 542.5 L1363.7 540.4 L1368.7 538.2 L1373.8 536.0 L1378.9 533.7 L1384.0 531.4 L1389.1 529.0 L1394.1 526.6 L1399.2 524.0 L1404.3 521.3 L1409.4 518.5 L1414.4 515.5 L1419.5 512.4 L1424.6 509.1 L1429.7 505.7 L1434.8 502.1 L1439.8 498.4 L1444.9 494.6 L1450.0 490.8 L1455.1 486.9 L1460.2 483.0 L1465.2 479.0 L1470.3 474.9 L1475.4 470.6 L1480.5 466.3 L1485.5 461.9 L1490.6 457.4 L1495.7 452.8 L1500.8 448.3 L1505.9 443.6 L1510.9 439.0 L1516.0 434.3 L1521.1 429.6 L1526.2 424.8 L1531.2 420.0 L1536.3 415.1 L1541.4 410.2 L1546.5 405.2 L1551.6 400.2 L1556.6 395.1 L1561.7 390.0 L1566.8 384.9 L1571.9 379.6 L1577.0 374.4 L1582.0 369.1 L1587.1 363.8 L1592.2 358.4 L1597.3 352.9 L1602.3 347.4 L1607.4 341.9 L1612.5 336.3" fill="none" stroke="#008080" stroke-width="1" marker-start="url(#mDnB)" marker-mid="url(#mDnB)" marker-end="url(#mDnB)" clip-path="url(#clipB)"/>
<path d="M1003.1 103.5 H1612.5 V639.8" fill="none" stroke="#000" stroke-width="1.3"/>
<path d="M1003.1 102.9 V639.8 H1613.1" fill="none" stroke="#000" stroke-width="2.2"/>
<text transform="translate(992.69,676.10) scale(0.8804,1)" font-size="31.4" font-weight="normal" >0</text>
<text transform="translate(1086.79,676.10) scale(0.8970,1)" font-size="31.4" font-weight="normal" >20</text>
<text transform="translate(1189.17,676.10) scale(0.8857,1)" font-size="31.4" font-weight="normal" >40</text>
<text transform="translate(1289.57,676.10) scale(0.9095,1)" font-size="31.4" font-weight="normal" >60</text>
<text transform="translate(1391.81,676.10) scale(0.8905,1)" font-size="31.4" font-weight="normal" >80</text>
<text transform="translate(1486.14,676.10) scale(0.8766,1)" font-size="31.4" font-weight="normal" >100</text>
<text transform="translate(1591.11,676.10) scale(0.8028,1)" font-size="31.4" font-weight="normal" >120</text>
<text transform="translate(909.77,516.50) scale(0.9861,1)" font-size="30.2" font-weight="normal" >1x10</text>
<text transform="translate(975.00,499.90) scale(0.9414,1)" font-size="18.9" font-weight="normal" >-7</text>
<text transform="translate(910.53,427.30) scale(0.9743,1)" font-size="30.2" font-weight="normal" >2x10</text>
<text transform="translate(975.00,410.70) scale(0.9414,1)" font-size="18.9" font-weight="normal" >-7</text>
<text transform="translate(910.90,338.10) scale(0.9685,1)" font-size="30.2" font-weight="normal" >3x10</text>
<text transform="translate(975.00,321.50) scale(0.9414,1)" font-size="18.9" font-weight="normal" >-7</text>
<text transform="translate(911.35,248.90) scale(0.9616,1)" font-size="30.2" font-weight="normal" >4x10</text>
<text transform="translate(975.00,232.30) scale(0.9414,1)" font-size="18.9" font-weight="normal" >-7</text>
<text transform="translate(910.83,159.70) scale(0.9696,1)" font-size="30.2" font-weight="normal" >5x10</text>
<text transform="translate(975.00,143.10) scale(0.9414,1)" font-size="18.9" font-weight="normal" >-7</text>
<text transform="translate(974.84,604.30) scale(0.8470,1)" font-size="31.4" font-weight="normal" >0</text>
<path d="M1014 196.4 H1047 H1079.3" stroke="#000" stroke-width="1.3" fill="none" marker-mid="url(#mSq)"/>
<text transform="translate(1086.40,207.00) scale(0.9925,1)" font-size="30.2" font-weight="normal" >0.1s</text>
<path d="M1014 235.5 H1047 H1079.3" stroke="#ff0000" stroke-width="1.3" fill="none" marker-mid="url(#mCi)"/>
<text transform="translate(1086.41,246.10) scale(0.9881,1)" font-size="30.2" font-weight="normal" >0.01s</text>
<path d="M1014 274.9 H1047 H1079.3" stroke="#0000ff" stroke-width="1.3" fill="none" marker-mid="url(#mUp)"/>
<text transform="translate(1088.33,285.50) scale(0.9580,1)" font-size="30.2" font-weight="normal" >1ms</text>
<path d="M1014 314.7 H1047 H1079.3" stroke="#008080" stroke-width="1.3" fill="none" marker-mid="url(#mDn)"/>
<text transform="translate(1086.40,325.30) scale(0.9956,1)" font-size="30.2" font-weight="normal" >0.1ms</text>
<path d="M1014 354.4 H1047 H1079.3" stroke="#ff00ff" stroke-width="1.3" fill="none" marker-mid="url(#mLf)"/>
<text transform="translate(1086.40,365.00) scale(0.9918,1)" font-size="30.2" font-weight="normal" >0.01ms</text>
<path d="M1279 472 H1582.5" stroke="#000" stroke-width="1.3"/><path d="M1267.3 472 L1281 468.4 L1281 475.6 Z" fill="#000"/>
<text transform="translate(877.60,450.70) rotate(-90) scale(0.9434,1)" font-size="42.4" font-weight="normal" >I</text>
<text transform="translate(886.50,439.67) rotate(-90) scale(0.9257,1)" font-size="41.5" font-weight="normal" >DS</text>
<text transform="translate(877.60,370.66) rotate(-90) scale(0.9668,1)" font-size="42.4" font-weight="normal" >(A)</text>
<text transform="translate(1245.92,726.70) scale(0.8232,1)" font-size="43.6" font-weight="normal" >V</text>
<text transform="translate(1270.89,735.50) scale(0.8657,1)" font-size="41.8" font-weight="normal" letter-spacing="1.67" >GS</text>
<text transform="translate(1337.65,726.70) scale(0.8625,1)" font-size="43.6" font-weight="normal" >(A)</text>
<text transform="translate(12.53,83.90) scale(0.9777,1)" font-size="116.0" font-weight="bold" >(<tspan dy="3.2" dx="2.22" font-size="108">a</tspan><tspan dy="-3.2" dx="2.22">)</tspan></text>
<text transform="translate(861.29,85.00) scale(0.9664,1)" font-size="116.0" font-weight="bold" >(<tspan dy="3.2">b</tspan><tspan dy="-3.2">)</tspan></text>
<text transform="translate(256.43,809.20) scale(0.9085,1)" font-size="116.0" font-weight="bold" >(<tspan dy="3.2" dx="1.95" font-size="109">c</tspan><tspan dy="-3.2" dx="1.95">)</tspan></text>
<text transform="translate(9.28,1417.70) scale(0.9693,1)" font-size="116.0" font-weight="bold" >(<tspan dy="3.2">d</tspan><tspan dy="-3.2">)</tspan></text>
<text transform="translate(963.91,1444.80) scale(0.9807,1)" font-size="116.0" font-weight="bold" >(<tspan dy="3.2" dx="1.67" font-size="110">e</tspan><tspan dy="-3.2" dx="1.67">)</tspan></text>
<path d="M693.1 988.5 C697 975 704 965.5 714 963.5 C728 960.5 741 968 748.7 986.7 C754 1000 757.5 1010 759.6 1023.8 L765.1 1024.3 L755.3 1047.8 L733.5 1023.4 L743.3 1023.8 C741 1008 738 996 732.4 986.7 C728.5 978 724.5 972 720.5 972 C716 973 712.5 980 709.5 988.5 Z" fill="#c00000"/>
<path d="M693.1 988.5 C697 975 704 965.5 714 963.5 C717 963 719 963 721 963.2 L721 972 C716 973 712.5 980 709.5 988.5 Z" fill="#9c0000"/>
<ellipse cx="589.5" cy="1006.4" rx="8.1" ry="9.9" fill="url(#eg)"/>
<ellipse cx="606.9" cy="1006.4" rx="8.1" ry="9.9" fill="url(#eg)"/>
<ellipse cx="624.4" cy="1006.4" rx="8.1" ry="9.9" fill="url(#eg)"/>
<ellipse cx="641.2" cy="1006.4" rx="8.1" ry="9.9" fill="url(#eg)"/>
<ellipse cx="658.2" cy="1006.4" rx="8.1" ry="9.9" fill="url(#eg)"/>
<ellipse cx="675.6" cy="1006.4" rx="8.1" ry="9.9" fill="url(#eg)"/>
<ellipse cx="693.5" cy="1006.2" rx="8.1" ry="9.9" fill="url(#eg)"/>
<ellipse cx="711.6" cy="1009.6" rx="8.1" ry="9.9" fill="url(#eg)"/>
<ellipse cx="783.7" cy="1029.9" rx="8.4" ry="10.3" fill="url(#eg)"/>
<ellipse cx="812.7" cy="1032.6" rx="8.4" ry="10.3" fill="url(#eg)"/>
<ellipse cx="863.7" cy="1027.1" rx="8.4" ry="10.3" fill="url(#eg)"/>
<ellipse cx="776.0" cy="1048.9" rx="8.4" ry="10.3" fill="url(#eg)"/>
<ellipse cx="800.0" cy="1048.9" rx="8.4" ry="10.3" fill="url(#eg)"/>
<ellipse cx="826.6" cy="1046.7" rx="8.4" ry="10.3" fill="url(#eg)"/>
<ellipse cx="845.8" cy="1049.6" rx="8.4" ry="10.3" fill="url(#eg)"/>
<ellipse cx="866.6" cy="1048.9" rx="8.4" ry="10.3" fill="url(#eg)"/>
<ellipse cx="884.0" cy="1048.9" rx="8.4" ry="10.3" fill="url(#eg)"/>
<ellipse cx="795.7" cy="1080.6" rx="8.4" ry="10.3" fill="url(#eg)"/>
<ellipse cx="825.1" cy="1085.4" rx="8.4" ry="10.3" fill="url(#eg)"/>
<ellipse cx="876.0" cy="1080.1" rx="8.4" ry="10.3" fill="url(#eg)"/>
<ellipse cx="788.0" cy="1100.2" rx="8.4" ry="10.3" fill="url(#eg)"/>
<ellipse cx="857.8" cy="1100.6" rx="8.4" ry="10.3" fill="url(#eg)"/>
<ellipse cx="896.0" cy="1100.2" rx="8.4" ry="10.3" fill="url(#eg)"/>
<g stroke="#000" fill="none" stroke-linecap="butt">
<path d="M510 779.5 H1279.5" stroke-width="3.7"/>
<path d="M510 1017.2 H721 M510 1223.3 H721" stroke-width="3.7"/>
<path d="M721 1059.3 H951 M721 1111.8 H951" stroke-width="3.7"/>
<rect x="951.2" y="848.8" width="97" height="489.8" stroke-width="3.0"/>
<path d="M720.7 943.3 V1337.3" stroke-width="2.7"/>
</g>
<pattern id="hat1" patternUnits="userSpaceOnUse" x="12.74" y="0" width="19.2" height="200" patternTransform="skewX(-38.66)"><rect x="0" y="0" width="7.6" height="200" fill="#000"/></pattern>
<rect x="1048.5" y="1060" width="193.5" height="53.5" fill="url(#hat1)"/>
<path d="M1048.5 1060 H1239.7" stroke="#000" stroke-width="4.6" stroke-linecap="butt"/><circle cx="1239.7" cy="1060" r="2.3" fill="#000"/>
<path d="M759.3 799.3 V1039.5" stroke="#000" stroke-width="2.7"/>
<path d="M759.3 781 l9.1 20.3 h-18.2 Z" fill="#000"/>
<path d="M759.3 1057.8 l9.1 -20.3 h-18.2 Z" fill="#000"/>
<path d="M841.1 799.3 V1092.2" stroke="#000" stroke-width="2.7"/>
<path d="M841.1 781 l9.1 20.3 h-18.2 Z" fill="#000"/>
<path d="M841.1 1110.5 l9.1 -20.3 h-18.2 Z" fill="#000"/>
<path d="M1001.1 797.5 V831.0" stroke="#000" stroke-width="2.7"/>
<path d="M1001.1 781 l8.3 18.5 h-16.6 Z" fill="#000"/>
<path d="M1001.1 847.5 l8.3 -18.5 h-16.6 Z" fill="#000"/>
<path d="M548.8 1037.1 V1203.4" stroke="#000" stroke-width="2.7"/>
<path d="M548.8 1018.8 l9.1 20.3 h-18.2 Z" fill="#000"/>
<path d="M548.8 1221.7 l9.1 -20.3 h-18.2 Z" fill="#000"/>
<text transform="translate(712.41,749.00) scale(0.8080,1)" font-size="47.4" font-weight="bold" >Vacuum Level</text>
<text transform="translate(1029.29,831.40) scale(0.9032,1)" font-size="44.6" font-weight="bold" >0.9 eV</text>
<text transform="translate(809.10,960.72) rotate(-90) scale(1.2038,1)" font-size="40.0" font-weight="bold" >4.5 eV</text>
<text transform="translate(888.40,961.45) rotate(-90) scale(1.2102,1)" font-size="40.0" font-weight="bold" >5.3 eV</text>
<text transform="translate(514.90,1207.50) rotate(-90) scale(1.2560,1)" font-size="39.0" font-weight="bold" >3.28 eV</text>
<text transform="translate(593.20,1315.60) scale(0.7764,1)" font-size="56.0" font-weight="bold" >ZnO</text>
<text transform="translate(747.21,1324.30) scale(0.8278,1)" font-size="53.5" font-weight="bold" >NAu-rGO</text>
<text transform="translate(956.96,1306.20) scale(0.7526,1)" font-size="55.0" font-weight="bold" >SiO<tspan font-size="38" dy="14.5">2</tspan></text>
<path d="M361.8 1482.7 C362.5 1476 363 1473 363.6 1470 C365.5 1465 368 1462.5 370.9 1460.9 C374 1459 377 1457.8 380 1457.6 C384 1457.4 388 1458 390.9 1460 C395 1462.5 398 1466 400 1470 C403 1475 405 1480.5 406.4 1486.4 C408 1492 409 1498 409.5 1504.5 C409.9 1508.5 410 1512.5 410 1516.4 L415.7 1516.4 L402.7 1534.6 L388.9 1516.4 L395.6 1516.4 C395.5 1510 395.2 1503.5 394.5 1497.3 C393.8 1491.5 392.6 1486 390.9 1480.9 C389.6 1476.5 387.8 1472.3 385.5 1469.1 C384 1467.8 382 1467.2 380 1467.3 C377.5 1467.7 375.4 1469.4 373.6 1471.8 C371.3 1475 369.6 1478.8 368.2 1482.7 Z" fill="#c00000"/>
<path d="M361.8 1482.7 C362.5 1476 363 1473 363.6 1470 C365.5 1465 368 1462.5 370.9 1460.9 C374 1459 377 1457.8 380 1457.6 L380 1467.3 C377.5 1467.7 375.4 1469.4 373.6 1471.8 C371.3 1475 369.6 1478.8 368.2 1482.7 Z" fill="#9c0000"/>
<ellipse cx="253.6" cy="1472.8" rx="7.1" ry="10.2" fill="url(#eg)"/>
<ellipse cx="268.2" cy="1472.8" rx="7.1" ry="10.2" fill="url(#eg)"/>
<ellipse cx="282.7" cy="1472.8" rx="7.1" ry="10.2" fill="url(#eg)"/>
<ellipse cx="297.3" cy="1472.8" rx="7.1" ry="10.2" fill="url(#eg)"/>
<ellipse cx="311.8" cy="1472.8" rx="7.1" ry="10.2" fill="url(#eg)"/>
<ellipse cx="326.9" cy="1472.8" rx="7.1" ry="10.2" fill="url(#eg)"/>
<ellipse cx="341.8" cy="1473.0" rx="7.1" ry="10.2" fill="url(#eg)"/>
<ellipse cx="357.3" cy="1475.8" rx="7.1" ry="10.2" fill="url(#eg)"/>
<ellipse cx="431.6" cy="1521.5" rx="7.0" ry="10.0" fill="url(#eg)"/>
<ellipse cx="455.2" cy="1528.8" rx="7.0" ry="10.0" fill="url(#eg)"/>
<ellipse cx="498.3" cy="1528.8" rx="7.0" ry="10.0" fill="url(#eg)"/>
<ellipse cx="424.4" cy="1539.7" rx="7.0" ry="10.0" fill="url(#eg)"/>
<ellipse cx="444.2" cy="1540.9" rx="7.0" ry="10.0" fill="url(#eg)"/>
<ellipse cx="467.3" cy="1544.5" rx="7.0" ry="10.0" fill="url(#eg)"/>
<ellipse cx="483.0" cy="1548.9" rx="7.0" ry="10.0" fill="url(#eg)"/>
<ellipse cx="500.0" cy="1549.4" rx="7.0" ry="10.0" fill="url(#eg)"/>
<ellipse cx="515.3" cy="1549.4" rx="7.0" ry="10.0" fill="url(#eg)"/>
<ellipse cx="441.3" cy="1570.0" rx="7.0" ry="10.0" fill="url(#eg)"/>
<ellipse cx="465.6" cy="1576.8" rx="7.0" ry="10.0" fill="url(#eg)"/>
<ellipse cx="508.5" cy="1570.0" rx="7.0" ry="10.0" fill="url(#eg)"/>
<ellipse cx="434.5" cy="1589.9" rx="7.0" ry="10.0" fill="url(#eg)"/>
<ellipse cx="492.7" cy="1596.7" rx="7.0" ry="10.0" fill="url(#eg)"/>
<ellipse cx="525.0" cy="1589.4" rx="7.0" ry="10.0" fill="url(#eg)"/>
<g stroke="#000" fill="none" stroke-linejoin="miter">
<path d="M159.4 1485.5 C172.8 1485.5 216.6 1485.2 240.0 1485.2 C263.4 1485.2 285.4 1485.2 300.0 1485.3 C314.6 1485.4 320.3 1485.3 327.3 1485.8 C334.3 1486.3 337.6 1486.8 341.8 1488.2 C346.0 1489.7 349.1 1491.5 352.7 1494.5 C356.3 1497.5 360.4 1502.0 363.6 1506.4 C366.8 1510.8 369.5 1516.6 371.8 1520.9 C374.1 1525.2 376.0 1529.7 377.3 1532.5 C378.6 1535.3 379.2 1537.1 379.6 1538.0" stroke-width="4.6"/>
<path d="M159.4 1683.1 C172.8 1683.0 216.6 1682.8 240.0 1682.8 C263.4 1682.8 285.4 1682.8 300.0 1682.9 C314.6 1683.0 320.3 1682.9 327.3 1683.4 C334.3 1683.9 337.6 1684.3 341.8 1685.8 C346.0 1687.2 349.1 1689.1 352.7 1692.1 C356.3 1695.1 360.4 1699.6 363.6 1704.0 C366.8 1708.4 369.5 1714.2 371.8 1718.5 C374.1 1722.8 376.0 1727.8 377.3 1730.1 C378.6 1732.3 379.2 1731.7 379.6 1732.0" stroke-width="4.6"/>
<path d="M380 1544.6 L593.5 1579.4 M380 1593.8 L593.5 1627.4" stroke-width="5"/>
<path d="M594 1349.7 L675.2 1386.1 L675.2 1884 L594 1848.9 Z" stroke-width="3.5"/>
<path d="M379.8 1362.7 V1863" stroke-width="3.4"/>
</g>
<pattern id="hat2" patternUnits="userSpaceOnUse" x="10.71" y="0" width="16.2" height="200" patternTransform="skewX(-33.82)"><rect x="0" y="0" width="7.3" height="200" fill="#000"/></pattern>
<rect x="675.5" y="1552.7" width="161.10000000000002" height="48.799999999999955" fill="url(#hat2)"/>
<path d="M675.5 1552.7 H833.9" stroke="#000" stroke-width="5.4" stroke-linecap="butt"/><circle cx="833.9" cy="1552.7" r="2.7" fill="#000"/>
<text transform="translate(286.49,1815.10) scale(0.7517,1)" font-size="49.0" font-weight="bold" >ZnO</text>
<text transform="translate(404.56,1845.30) scale(0.7602,1)" font-size="49.5" font-weight="bold" >NAu-rGO</text>
<text transform="translate(595.86,1810.50) scale(0.7210,1)" font-size="48.0" font-weight="bold" >SiO<tspan font-size="33" dy="13">2</tspan></text>
<path d="M1309.7 1512.1 C1305 1494 1294 1472 1274.5 1452.7 C1262 1443 1248 1439 1233.3 1439.4 C1218 1440 1205 1446 1192 1456.5 C1177 1469 1164 1488 1157.5 1504 C1152 1520 1149.5 1542 1150.4 1564.2 L1140 1572.7 L1165.5 1593.3 L1181.2 1551.6 L1171 1557 C1170 1540 1172 1518 1176.5 1500 C1181 1484 1189 1471 1200 1463 C1212 1456.5 1226 1456 1238.2 1460 C1252 1465 1263 1476 1271 1489 C1279 1501 1284.5 1512 1287.9 1523 Z" fill="#c00000"/>
<path d="M1309.7 1512.1 C1305 1494 1294 1472 1274.5 1452.7 C1262 1443 1248 1439 1233.3 1439.4 C1229 1439.6 1226 1440 1222 1441 C1236 1444 1250 1450 1263 1462 C1277 1476 1289 1496 1298.8 1517.5 Z" fill="#9c0000"/>
<ellipse cx="1324.2" cy="1495.2" rx="7.3" ry="9.8" fill="url(#eg)"/>
<ellipse cx="1344.4" cy="1507.3" rx="7.3" ry="9.8" fill="url(#eg)"/>
<ellipse cx="1259.3" cy="1515.8" rx="7.3" ry="9.8" fill="url(#eg)"/>
<ellipse cx="1283.5" cy="1512.8" rx="7.3" ry="9.8" fill="url(#eg)"/>
<ellipse cx="1296.8" cy="1520.6" rx="7.3" ry="9.8" fill="url(#eg)"/>
<ellipse cx="1312.8" cy="1518.2" rx="7.3" ry="9.8" fill="url(#eg)"/>
<ellipse cx="1329.1" cy="1512.8" rx="7.3" ry="9.8" fill="url(#eg)"/>
<ellipse cx="1255.2" cy="1535.2" rx="7.3" ry="9.8" fill="url(#eg)"/>
<ellipse cx="1274.5" cy="1529.1" rx="7.3" ry="9.8" fill="url(#eg)"/>
<ellipse cx="1332.7" cy="1554.1" rx="7.3" ry="9.8" fill="url(#eg)"/>
<ellipse cx="1353.8" cy="1564.7" rx="7.3" ry="9.8" fill="url(#eg)"/>
<ellipse cx="1268.8" cy="1583.2" rx="7.3" ry="9.8" fill="url(#eg)"/>
<ellipse cx="1293.6" cy="1577.7" rx="7.3" ry="9.8" fill="url(#eg)"/>
<ellipse cx="1322.7" cy="1579.3" rx="7.3" ry="9.8" fill="url(#eg)"/>
<ellipse cx="1266.8" cy="1603.7" rx="7.3" ry="9.8" fill="url(#eg)"/>
<g stroke="#000" fill="none">
<path d="M961.8 1673.1 C974.8 1672.8 1017.0 1672.1 1040.0 1671.5 C1063.0 1670.9 1086.2 1670.1 1100.0 1669.6 C1113.8 1669.1 1115.5 1669.5 1122.8 1668.5 C1130.1 1667.5 1138.1 1665.6 1143.6 1663.6 C1149.1 1661.6 1152.1 1659.8 1155.8 1656.4 C1159.5 1653.1 1162.7 1648.5 1165.5 1643.5 C1168.3 1638.5 1170.3 1632.8 1172.7 1626.5 C1175.1 1620.2 1177.7 1612.1 1180.0 1605.5 C1182.3 1598.9 1185.4 1590.1 1186.5 1587.0" stroke-width="4.6"/>
<path d="M961.8 1867.3 C974.8 1867.0 1017.0 1866.3 1040.0 1865.7 C1063.0 1865.1 1086.2 1864.3 1100.0 1863.8 C1113.8 1863.3 1115.5 1863.7 1122.8 1862.7 C1130.1 1861.7 1138.1 1859.8 1143.6 1857.8 C1149.1 1855.8 1152.1 1854.0 1155.8 1850.6 C1159.5 1847.3 1162.7 1842.7 1165.5 1837.7 C1168.3 1832.7 1170.3 1827.0 1172.7 1820.7 C1175.1 1814.4 1177.7 1806.3 1180.0 1799.7 C1182.3 1793.1 1185.4 1784.3 1186.5 1781.2" stroke-width="4.6"/>
<path d="M1186 1572 L1401.3 1497.6 M1184.5 1648 L1401.3 1565.5" stroke-width="5"/>
<path d="M1402.5 1411 L1484.3 1349.1 L1484.3 1827.8 L1402.5 1888.2 Z" stroke-width="3.6"/>
<path d="M1187.2 1430.9 V1909.3" stroke-width="3.4"/>
</g>
<pattern id="hat3" patternUnits="userSpaceOnUse" x="10.46" y="0" width="16.36" height="200" patternTransform="skewX(-33.82)"><rect x="0" y="0" width="7.0" height="200" fill="#000"/></pattern>
<rect x="1484" y="1547.3" width="164" height="48.40000000000009" fill="url(#hat3)"/>
<path d="M1484 1547.3 H1645.35" stroke="#000" stroke-width="5.3" stroke-linecap="butt"/><circle cx="1645.35" cy="1547.3" r="2.65" fill="#000"/>
<text transform="translate(1084.81,1794.40) scale(0.7368,1)" font-size="49.5" font-weight="bold" >ZnO</text>
<text transform="translate(1209.86,1838.30) scale(0.7466,1)" font-size="50.5" font-weight="bold" >NAu-rGO</text>
<text transform="translate(1406.45,1794.70) scale(0.7415,1)" font-size="47.0" font-weight="bold" >SiO<tspan font-size="33" dy="13">2</tspan></text>
</svg>
</body></html>
